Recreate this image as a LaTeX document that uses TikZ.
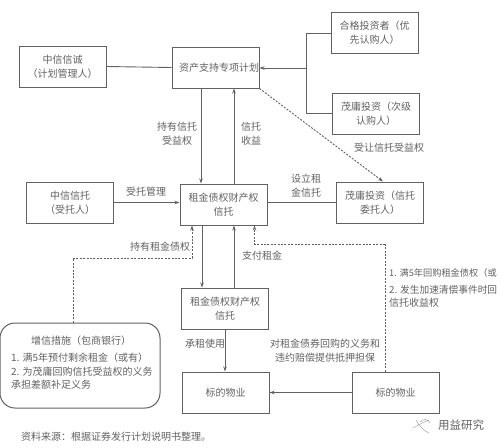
\documentclass[tikz,border=0pt]{standalone}
\usepackage{fontspec}
\usepackage{xcolor}
\usetikzlibrary{arrows.meta, calc}
\newfontfamily\cjk{Noto Sans CJK SC}
\definecolor{inkgray}{gray}{0.38}
\definecolor{linegray}{gray}{0.38}
\tikzset{
  box/.style={draw=linegray, line width=1pt, minimum width=87pt, minimum height=41pt, inner sep=0pt, align=center, text=inkgray, font=\cjk\fontsize{10}{14}\selectfont},
  lbl/.style={inner sep=0pt, align=center, text=inkgray, font=\cjk\fontsize{10}{14}\selectfont},
  lblleft/.style={lbl, anchor=west, align=left},
  conn/.style={draw=linegray, line width=0.9pt},
  arrow/.style={conn, -{Stealth[length=5pt,width=3.5pt]}},
  dashconn/.style={conn, dash pattern=on 2pt off 1.4pt},
  dasharrow/.style={dashconn, -{Stealth[length=5pt,width=3.5pt]}}
}
\begin{document}
\begin{tikzpicture}[x=1pt,y=-1pt]
            \useasboundingbox (0,0) rectangle (500,447);

            % Draw boxes
            \node[box] (manager) at (62.5,66.5) {中信信诚\\（计划管理人）};
            \node[box] (plan) at (215.5,67.5) {\hspace*{7pt}资产支持专项计划};
            \node[box] (senior) at (374.5,33) {合格投资者（优\\先认购人）};
            \node[box] (junior) at (376,113.5) {茂庸投资（次级\\认购人）};
            \node[box] (trustee) at (70,202.5) {中信信托\\（受托人）};
            \node[box] (trust) at (223.5,204.5) {租金债权财产权\\信托};
            \node[box] (settlor) at (380,202.5) {茂庸投资（信托\\委托人）};
            \node[box] (subtrust) at (225,308.5) {租金债权财产权\\信托};
            \node[box] (property) at (225.5,392.5) {标的物业};
            \node[box] (propertyb) at (395.5,392.5) {标的物业};
            \node[box, minimum width=160pt, minimum height=85pt, rounded corners=15pt] (credit) at (80,365.5) {};

            % Bend points
            \coordinate (fork) at (306,68);
            \coordinate (creditbend) at (73,258);
            \coordinate (buybackbend) at (385,244);

            % Draw connectors
            \draw[conn] (manager.east) -- (plan.west);
            \draw[conn] (senior.west) -| (fork);
            \draw[conn] (junior.west) -| (fork);
            \draw[arrow] (fork) -- (plan.east |- fork);
            \draw[arrow] ([xshift=-14.5]plan.south) -- ([xshift=-22.5]trust.north);
            \draw[arrow] ([xshift=10.5]trust.north) -- ([xshift=18.5]plan.south);
            \draw[arrow] (trustee.east) -- (trust.west |- trustee.east);
            \draw[conn] (settlor.west) -- (trust.east |- settlor.west);
            \draw[dasharrow] (plan.south east) -- ([xshift=3]settlor.north);
            \draw[dashconn] ([xshift=-7]credit.north) -- (creditbend);
            \draw[dasharrow] (creditbend) -| ([xshift=-31.5]trust.south);
            \draw[arrow] ([xshift=-21.5]trust.south) -- ([xshift=-23]subtrust.north);
            \draw[arrow] ([xshift=9]subtrust.north) -- ([xshift=10.5]trust.south);
            \draw[dashconn] ([xshift=-10.5]propertyb.north) -- (buybackbend);
            \draw[dasharrow] (buybackbend) -| ([xshift=31]trust.south);
            \draw[arrow] (subtrust.south) -- (property.north -| subtrust.south);
            \draw[arrow] (propertyb.west) -- (property.east);

            % Add labels
            \node[lbl] (holdtrust) at (177,134) {持有信托\\受益权};
            \node[lbl] (income) at (251,134) {信托\\收益};
            \node[lbl] (entrust) at (146,192) {受托管理};
            \node[lbl] (transfer) at (389,148) {受让信托受益权};
            \node[lbl] (setup) at (306,186) {设立租\\金信托};
            \node[lbl] (holdrent) at (160,247) {持有租金债权};
            \node[lbl] (payrent) at (262,256) {支付租金};
            \node[lbl] (lease) at (205,344) {承租使用};
            \node[lbl] (mortgage) at (325,350.5) {对租金债券回购的义务和\\违约赔偿提供抵押担保};

            % Credit enhancement text
            \node[lbl] (credittitle) at (81,341) {增信措施（包商银行）};
            \node[lblleft] (creditone) at (11,358) {1. 满5年预付剩余租金（或有）};
            \node[lblleft] (credittwo) at (11,372) {2. 为茂庸回购信托受益权的义务};
            \node[lblleft] (creditthree) at (11,385) {承担差额补足义务};

            % Buyback text
            \node[lblleft, font=\cjk\fontsize{9.2}{14}\selectfont] (buyone) at (389,273) {1. 满5年回购租金债权（或};
            \node[lblleft, font=\cjk\fontsize{9.7}{14}\selectfont] (buytwo) at (389,290) {2. 发生加速清偿事件时回};
            \node[lblleft] (buythree) at (389,303) {信托收益权};

            % Source and watermark
            \node[lblleft] (source) at (21,437) {资料来源：根据证券发行计划说明书整理。};
            \node[lblleft, font=\cjk\fontsize{11.5}{14}\selectfont] (mark) at (438,425) {用益研究};
            \draw[gray!70, line width=0.5pt] (413,428) .. controls (420,424) and (424,422) .. (429,420) (416,420) .. controls (420,427) and (424,431) .. (429,433) (420,422) .. controls (424,418) and (428,419) .. (430,423);
        \end{tikzpicture}
\end{document}
